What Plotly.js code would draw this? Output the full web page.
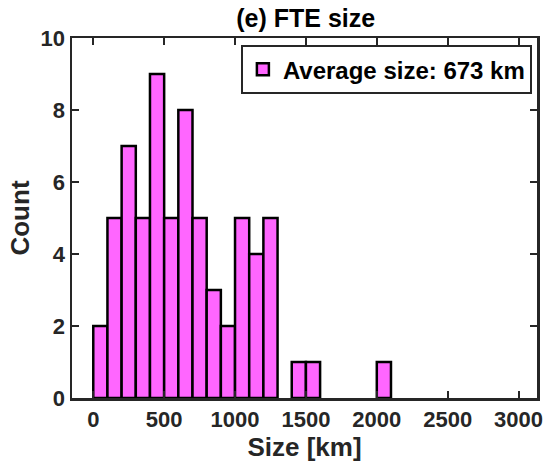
<!DOCTYPE html>
<html><head><meta charset="utf-8">
<script src="https://cdn.plot.ly/plotly-3.0.1.min.js"></script>
<style>html,body{margin:0;padding:0;background:#fff}#plot{width:546px;height:468px}</style>
</head><body><div id="plot"></div>
<script>
const binStart = [0,100,200,300,400,500,600,700,800,900,1000,1100,1200,1300,1400,1500,1600,1700,1800,1900,2000];
const counts   = [2,5,7,5,9,5,8,5,3,2,5,4,5,0,1,1,0,0,0,0,1];
const binWidth = 100;
const xTicks = [0,500,1000,1500,2000,2500,3000];
const yTicks = [0,2,4,6,8,10];
const shown = binStart.map((b,i)=>({c:b+binWidth/2, n:counts[i]})).filter(d=>d.n>0);
const ff = '"Liberation Sans", Arial, Helvetica, sans-serif';
const axisCommon = {
  showline:true, linecolor:'#262626', linewidth:2.5, mirror:'ticks',
  ticks:'inside', ticklen:7, tickwidth:2, tickcolor:'#262626',
  showgrid:false, zeroline:false,
  tickfont:{family:ff, size:22, color:'#262626', weight:'bold'}
};
Plotly.newPlot('plot', [{
  type:'bar', x:shown.map(d=>d.c), y:shown.map(d=>d.n), width:binWidth,
  marker:{color:'#FF66FF', line:{color:'#000000', width:2.5}},
  name:'Average size: 673 km', showlegend:true
}], {
  width:546, height:468,
  margin:{l:72, r:9, t:38, b:70},
  paper_bgcolor:'#fff', plot_bgcolor:'#fff',
  title:{text:'<b>(e) FTE size</b>', x:0.56, xanchor:'center', y:0.962, yanchor:'middle',
         font:{family:ff, size:25, color:'#000'}},
  xaxis:Object.assign({}, axisCommon, {range:[-150,3130], tickvals:xTicks, ticktext:xTicks.map(String),
     title:{text:'<b>Size [km]</b>', font:{family:ff, size:26, color:'#262626'}, standoff:6}}),
  yaxis:Object.assign({}, axisCommon, {range:[0,10], tickvals:yTicks, ticktext:yTicks.map(String),
     title:{text:'<b>Count</b>', font:{family:ff, size:26, color:'#262626'}, standoff:4}}),
  legend:{x:0.989, xanchor:'right', y:0.98, yanchor:'top', bgcolor:'#fff', bordercolor:'#262626', borderwidth:2,
     font:{family:ff, size:24, color:'#000', weight:'bold'}, itemwidth:30},
  bargap:0
}, {displayModeBar:false, staticPlot:true});
</script></body></html>
